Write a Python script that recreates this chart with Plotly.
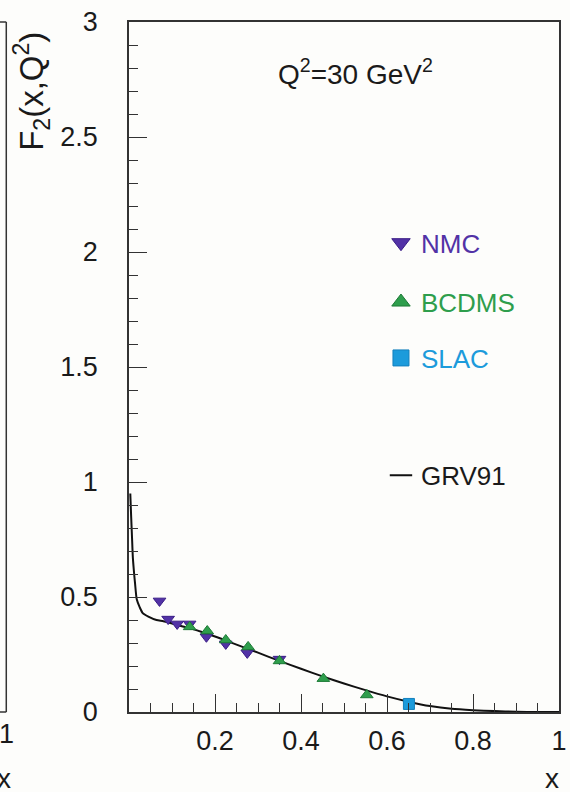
import plotly.graph_objects as go

# Structure function F2(x, Q^2) at Q^2 = 30 GeV^2
nmc_x = [0.071, 0.091, 0.112, 0.141, 0.180, 0.225, 0.275, 0.350]
nmc_f2 = [0.483, 0.404, 0.383, 0.383, 0.327, 0.296, 0.257, 0.230]

bcdms_x = [0.141, 0.182, 0.225, 0.277, 0.350, 0.452, 0.553]
bcdms_f2 = [0.370, 0.352, 0.313, 0.283, 0.222, 0.145, 0.074]

slac_x = [0.651]
slac_f2 = [0.035]

grv_x = [0.003, 0.005, 0.007, 0.009, 0.012, 0.014, 0.018, 0.025, 0.032, 0.045,
         0.064, 0.08, 0.1, 0.125, 0.15, 0.2, 0.25, 0.3, 0.35, 0.4, 0.45, 0.5,
         0.55, 0.6, 0.65, 0.7, 0.75, 0.8, 0.85, 0.9, 0.95, 1.0]
grv_f2 = [0.95, 0.85, 0.76, 0.67, 0.60, 0.56, 0.49, 0.455, 0.43, 0.415,
          0.40, 0.395, 0.385, 0.372, 0.36, 0.328, 0.293, 0.258, 0.222, 0.188, 0.155, 0.124,
          0.095, 0.068, 0.045, 0.026, 0.014, 0.008, 0.004, 0.001, 0.0, 0.0]

x_ticks = [0.2, 0.4, 0.6, 0.8, 1.0]
x_ticktext = ["0.2", "0.4", "0.6", "0.8", "1"]

NMC_COL = "#5232a6"
BCDMS_COL = "#2e9e4c"
SLAC_COL = "#1c9bdb"
INK = "#1a1a1a"
FONT = "Liberation Sans, Arial, sans-serif"

nmc_marker = dict(symbol="triangle-down", color=NMC_COL, line=dict(color="#3a1d86", width=1))
bcdms_marker = dict(symbol="triangle-up", color=BCDMS_COL, line=dict(color="#1d7a36", width=1))
slac_marker = dict(symbol="square", color=SLAC_COL, line=dict(color="#1480bd", width=1))

fig = go.Figure()

# Parametrisation curve and measurements
fig.add_trace(go.Scatter(
    x=grv_x, y=grv_f2, mode="lines", name="GRV91", showlegend=False,
    line=dict(color="#111111", width=2, shape="spline", smoothing=0.6),
))
fig.add_trace(go.Scatter(x=nmc_x, y=nmc_f2, mode="markers", name="NMC",
                         showlegend=False, marker=dict(size=11, **nmc_marker)))
fig.add_trace(go.Scatter(x=bcdms_x, y=bcdms_f2, mode="markers", name="BCDMS",
                         showlegend=False, marker=dict(size=11, **bcdms_marker)))
fig.add_trace(go.Scatter(x=slac_x, y=slac_f2, mode="markers", name="SLAC",
                         showlegend=False, marker=dict(size=11, **slac_marker)))

# Legend entries (larger symbols than the data points)
fig.add_trace(go.Scatter(x=[None], y=[None], mode="markers", name="NMC",
                         legend="legend", marker=dict(size=16, **nmc_marker)))
fig.add_trace(go.Scatter(x=[None], y=[None], mode="markers", name="BCDMS",
                         legend="legend2", marker=dict(size=16, **bcdms_marker)))
fig.add_trace(go.Scatter(x=[None], y=[None], mode="markers", name="SLAC",
                         legend="legend3", marker=dict(size=16, **slac_marker)))
fig.add_trace(go.Scatter(x=[None], y=[None], mode="markers", name="GRV91",
                         legend="legend4",
                         marker=dict(symbol="line-ew", size=16, color="#111111",
                                     line=dict(color="#111111", width=2))))


def legend_box(y, color):
    return dict(x=0.586, y=y, xanchor="left", yanchor="middle",
                bgcolor="rgba(0,0,0,0)", borderwidth=0,
                font=dict(family=FONT, size=26, color=color),
                itemsizing="trace")


axis_line = "#333333"

fig.update_layout(
    width=570, height=792,
    margin=dict(l=129, r=3, t=22, b=80),
    paper_bgcolor="#fdfdfb", plot_bgcolor="#fdfdfb",
    font=dict(family=FONT, size=27, color=INK),
    legend=legend_box(0.680, NMC_COL),
    legend2=legend_box(0.594, BCDMS_COL),
    legend3=legend_box(0.513, SLAC_COL),
    legend4=legend_box(0.343, INK),
    xaxis=dict(
        range=[0, 1], showgrid=False, zeroline=False,
        showline=True, linecolor=axis_line, linewidth=1.5, mirror=True,
        tickvals=x_ticks, ticktext=x_ticktext,
        ticks="inside", ticklen=18, tickwidth=1.2, tickcolor=axis_line,
        minor=dict(dtick=0.05, tick0=0, ticks="inside", ticklen=9,
                   tickwidth=1.2, tickcolor=axis_line, showgrid=False),
        tickfont=dict(family=FONT, size=27, color=INK),
        ticklabelstandoff=4, ticklabeloverflow="allow",
    ),
    yaxis=dict(
        range=[0, 3], showgrid=False, zeroline=False,
        showline=True, linecolor=axis_line, linewidth=1.5, mirror=True,
        dtick=0.5, tick0=0,
        ticks="inside", ticklen=18, tickwidth=1.2, tickcolor=axis_line,
        minor=dict(dtick=0.1, tick0=0, ticks="inside", ticklen=9,
                   tickwidth=1.2, tickcolor=axis_line, showgrid=False),
        tickfont=dict(family=FONT, size=27, color=INK),
        ticklabelstandoff=24, ticklabeloverflow="allow",
    ),
    showlegend=True,
)

# Axis titles and the Q^2 label
fig.add_annotation(
    text="F<sub>2</sub>(x,Q<sup>2</sup>)", textangle=-90,
    xref="paper", yref="paper", x=-0.226, y=0.90,
    xanchor="center", yanchor="middle", showarrow=False,
    font=dict(family=FONT, size=33, color=INK),
)
fig.add_annotation(
    text="x", xref="paper", yref="paper", x=0.984, y=-0.097,
    xanchor="center", yanchor="middle", showarrow=False,
    font=dict(family=FONT, size=28, color=INK),
)
fig.add_annotation(
    text="Q<sup>2</sup>=30 GeV<sup>2</sup>", xref="paper", yref="paper",
    x=0.527, y=0.928, xanchor="center", yanchor="middle", showarrow=False,
    font=dict(family=FONT, size=28, color=INK),
)

# Edge of the neighbouring panel on the left
left_edge = (4 - 129) / 438
fig.add_shape(type="line", xref="paper", yref="paper",
              x0=left_edge, x1=left_edge, y0=0, y1=1,
              line=dict(color=axis_line, width=1.5))
fig.add_shape(type="line", xref="paper", yref="paper",
              x0=-0.3, x1=left_edge, y0=1, y1=1,
              line=dict(color=axis_line, width=1.5))
fig.add_shape(type="line", xref="paper", yref="paper",
              x0=-0.3, x1=left_edge, y0=0, y1=0,
              line=dict(color=axis_line, width=1.5))
fig.add_annotation(
    text="1", xref="paper", yref="paper", x=left_edge, y=-0.032,
    xanchor="center", yanchor="middle", showarrow=False,
    font=dict(family=FONT, size=27, color=INK),
)
fig.add_annotation(
    text="x", xref="paper", yref="paper", x=(2 - 129) / 438, y=-0.097,
    xanchor="center", yanchor="middle", showarrow=False,
    font=dict(family=FONT, size=28, color=INK),
)

fig.write_html("out.html")
